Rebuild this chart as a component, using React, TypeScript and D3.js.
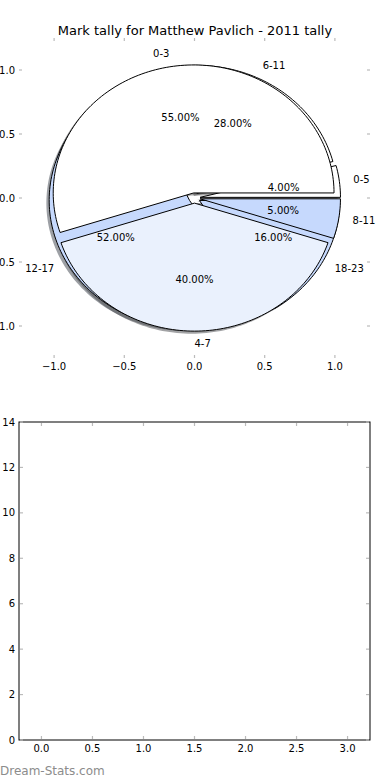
import React from "react";
import * as d3 from "d3";

// two pies drawn on the same axes
const quarterLabels = ["0-3", "4-7", "8-11"];
const quarterValues = [55, 40, 5];
const sixLabels = ["0-5", "6-11", "12-17", "18-23"];
const sixValues = [4, 28, 52, 16];

const pieTicks = [-1.0, -0.5, 0.0, 0.5, 1.0];
const barXTicks = [0.0, 0.5, 1.0, 1.5, 2.0, 2.5, 3.0];
const barYTicks = [0, 2, 4, 6, 8, 10, 12, 14];

const title = "Mark tally for Matthew Pavlich - 2011 tally";

const W = 390;
const H = 780;
const FONT = "DejaVu Sans, sans-serif";
const TICK = "#bbbbbb";
const EXPLODE = 0.04;

const quarterColors = ["#ffffff", "#eaf1fd", "#c6d9fd"];
const sixColors = ["#ffffff", "#ffffff", "#c6d9fd", "#c6d9fd"];

const fmt = (v: number) => (v < 0 ? "\u2212" : "") + Math.abs(v).toFixed(1);

const App = () => {
  const xP = d3.scaleLinear().domain([-1.25, 1.25]).range([19, 370]);
  const yP = d3.scaleLinear().domain([-1.25, 1.25]).range([358, 38]);

  const xB = d3.scaleLinear().domain([-0.22, 3.22]).range([19, 370]);
  const yB = d3.scaleLinear().domain([0, 14]).range([740, 422]);

  const line = d3
    .line<[number, number]>()
    .x((d) => xP(d[0]))
    .y((d) => yP(d[1]));

  const wedge = (cx: number, cy: number, t0: number, t1: number) => {
    const pts: [number, number][] = [[cx, cy]];
    const n = Math.max(2, Math.ceil((t1 - t0) / (Math.PI / 120)));
    for (let i = 0; i <= n; i++) {
      const t = t0 + ((t1 - t0) * i) / n;
      pts.push([cx + Math.cos(t), cy + Math.sin(t)]);
    }
    return line(pts) + "Z";
  };

  const pie = d3.pie<number>().sort(null).value((v) => v);

  const build = (values: number[], labels: string[], colors: string[]) =>
    pie(values).map((a, i) => {
      const mid = (a.startAngle + a.endAngle) / 2;
      const cx = EXPLODE * Math.cos(mid);
      const cy = EXPLODE * Math.sin(mid);
      return {
        label: labels[i],
        value: values[i],
        color: colors[i],
        mid,
        cx,
        cy,
        path: wedge(cx, cy, a.startAngle, a.endAngle),
        shadow: wedge(cx - 0.02, cy - 0.02, a.startAngle, a.endAngle),
      };
    });

  const sixWedges = build(sixValues, sixLabels, sixColors);
  const quarterWedges = build(quarterValues, quarterLabels, quarterColors);
  const all = [...sixWedges, ...quarterWedges];

  const shade = (c: string) => {
    const rgb = d3.rgb(c);
    return d3.rgb(rgb.r * 0.3, rgb.g * 0.3, rgb.b * 0.3).toString();
  };

  const pieL = 19, pieR = 370, pieT = 38, pieB = 358;
  const barL = 19, barR = 370, barT = 422, barBot = 740;

  return (
    <svg width={W} height={H} style={{ position: "absolute", left: 0, top: 0, background: "#fff" }} fontFamily={FONT}>
      <rect width={W} height={H} fill="#fff" />
      <text x={195} y={30} fontSize={13} textAnchor="middle" dominantBaseline="central">
        {title}
      </text>

      {/* pie axes ticks (no frame) */}
      {pieTicks.map((t) => (
        <g key={"px" + t} stroke={TICK} strokeWidth={1.2}>
          <line x1={xP(t)} x2={xP(t)} y1={pieB} y2={pieB - 3} />
          <line x1={xP(t)} x2={xP(t)} y1={pieT} y2={pieT + 3} />
          <line x1={pieL} x2={pieL + 3} y1={yP(t)} y2={yP(t)} />
          <line x1={pieR} x2={pieR - 3} y1={yP(t)} y2={yP(t)} />
        </g>
      ))}
      {pieTicks.map((t) => (
        <text key={"pxl" + t} x={xP(t)} y={pieB + 8} fontSize={10} textAnchor="middle" dominantBaseline="central">
          {fmt(t)}
        </text>
      ))}
      {pieTicks.map((t) => (
        <text key={"pyl" + t} x={15} y={yP(t)} fontSize={10} textAnchor="end" dominantBaseline="central">
          {fmt(t)}
        </text>
      ))}

      {/* shadows */}
      {all.map((w, i) => (
        <path key={"s" + i} d={w.shadow} fill={shade(w.color)} fillOpacity={0.5} stroke="none" />
      ))}
      {/* wedges, the six-hour pie first */}
      {all.map((w, i) => (
        <path key={"w" + i} d={w.path} fill={w.color} stroke="#000" strokeWidth={1} strokeLinejoin="miter" />
      ))}
      {all.map((w, i) => {
        const lx = w.cx + 1.1 * Math.cos(w.mid);
        const ly = w.cy + 1.1 * Math.sin(w.mid);
        return (
          <text
            key={"l" + i}
            x={xP(lx)}
            y={yP(ly)}
            fontSize={10}
            textAnchor={Math.cos(w.mid) > -1e-9 ? "start" : "end"}
            dominantBaseline="central"
          >
            {w.label}
          </text>
        );
      })}
      {all.map((w, i) => {
        const px = w.cx + 0.6 * Math.cos(w.mid);
        const py = w.cy + 0.6 * Math.sin(w.mid);
        return (
          <text key={"p" + i} x={xP(px)} y={yP(py)} fontSize={10} textAnchor="middle" dominantBaseline="central">
            {w.value.toFixed(2) + "%"}
          </text>
        );
      })}

      {/* empty lower axes */}
      <rect x={barL} y={barT} width={barR - barL} height={barBot - barT} fill="#fff" stroke="#000" strokeWidth={1} />
      {barXTicks.map((t) => (
        <g key={"bx" + t}>
          <line x1={xB(t)} x2={xB(t)} y1={barBot - 1} y2={barBot - 4} stroke={TICK} strokeWidth={1.2} />
          <line x1={xB(t)} x2={xB(t)} y1={barT + 1} y2={barT + 4} stroke={TICK} strokeWidth={1.2} />
          <text x={xB(t)} y={barBot + 8} fontSize={10} textAnchor="middle" dominantBaseline="central">
            {t.toFixed(1)}
          </text>
        </g>
      ))}
      {barYTicks.map((t) => (
        <g key={"by" + t}>
          <line x1={barL + 1} x2={barL + 4} y1={yB(t)} y2={yB(t)} stroke={TICK} strokeWidth={1.2} />
          <line x1={barR - 1} x2={barR - 4} y1={yB(t)} y2={yB(t)} stroke={TICK} strokeWidth={1.2} />
          <text x={15} y={yB(t)} fontSize={10} textAnchor="end" dominantBaseline="central">
            {t}
          </text>
        </g>
      ))}

      <text x={0} y={771} fontSize={12} fill="#8c8c8c" dominantBaseline="central">
        Dream-Stats.com
      </text>
    </svg>
  );
};

export default App;
